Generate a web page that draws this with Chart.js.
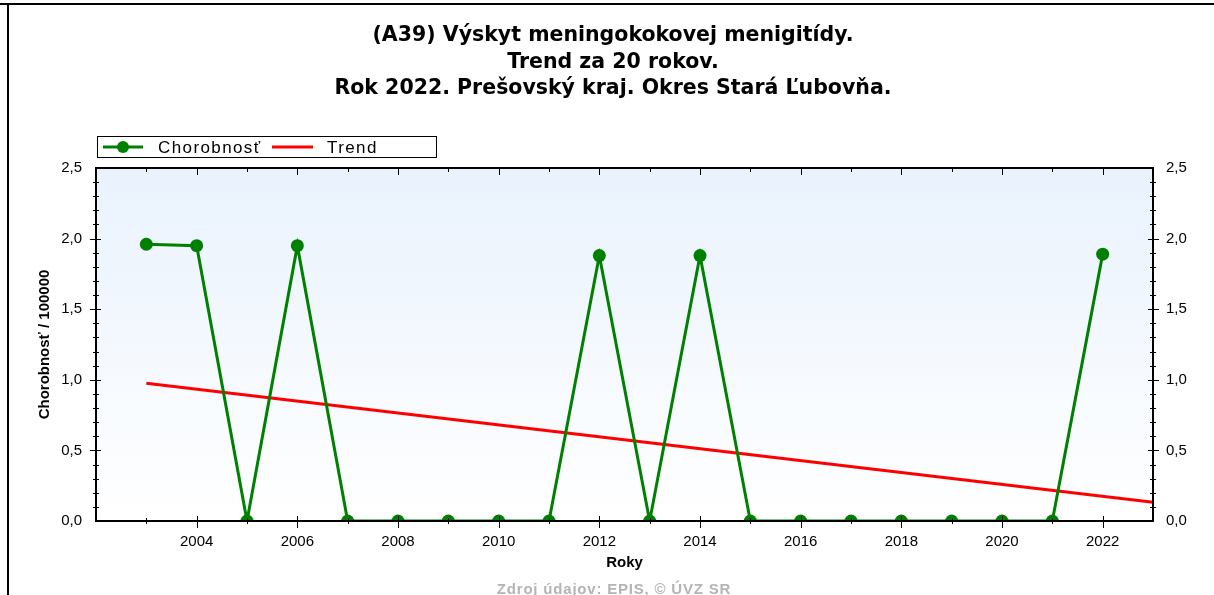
<!DOCTYPE html>
<html>
<head>
<meta charset="utf-8">
<title>A39 Stará Ľubovňa</title>
<script src="https://cdn.jsdelivr.net/npm/chart.js@4.4.1/dist/chart.umd.min.js"></script>
<style>
    html, body { margin: 0; padding: 0; background: #fff; }
    #obal { width: 1214px; height: 595px; position: relative; }
</style>
</head>
<body>
<div id="obal"><canvas id="chartVyskyt"></canvas></div>
<script>
// Údaje odčítané z grafu
var roky = [2003, 2004, 2005, 2006, 2007, 2008, 2009, 2010, 2011, 2012,
            2013, 2014, 2015, 2016, 2017, 2018, 2019, 2020, 2021, 2022];
var chorobnost = [1.96, 1.95, 0, 1.95, 0, 0, 0, 0, 0, 1.88,
                  0, 1.88, 0, 0, 0, 0, 0, 0, 0, 1.89];

// Trendová čiara (koncové body)
var trendRoky = [2003, 2023];
var trendHodnoty = [0.976, 0.133];

// Popisky osí
var popiskyX = [2004, 2006, 2008, 2010, 2012, 2014, 2016, 2018, 2020, 2022];
var popiskyY = [0, 0.5, 1.0, 1.5, 2.0, 2.5];

var nazovGrafu = [
    '(A39) Výskyt meningokokovej menigitídy.',
    'Trend za 20 rokov.',
    'Rok 2022. Prešovský kraj. Okres Stará Ľubovňa.'
];
var nazovOsiX = 'Roky';
var nazovOsiY = 'Chorobnosť / 100000';
var zdroj = 'Zdroj údajov: EPIS, © ÚVZ SR';

var zelena = '#008000';
var cervena = '#ff0000';

Chart.defaults.font.family = '"Liberation Sans", Arial, sans-serif';
Chart.defaults.color = '#000';

// Pozadie, rámik, značky na osiach, nadpis a legenda
var ramcekPlugin = {
    id: 'ramcek',
    beforeDraw: function (chart) {
        var ctx = chart.ctx, a = chart.chartArea;
        ctx.save();
        ctx.fillStyle = '#fff';
        ctx.fillRect(0, 0, chart.width, chart.height);
        // okraj obrázka
        ctx.fillStyle = '#000';
        ctx.fillRect(0, 3, chart.width, 2);
        ctx.fillRect(7, 3, 2, chart.height);
        // prechod v ploche grafu
        var g = ctx.createLinearGradient(0, a.top, 0, a.bottom);
        g.addColorStop(0, '#e9f2fd');
        g.addColorStop(1, '#ffffff');
        ctx.fillStyle = g;
        ctx.fillRect(a.left, a.top, a.right - a.left, a.bottom - a.top);
        ctx.restore();
    },
    afterDatasetsDraw: function (chart) {
        var ctx = chart.ctx, a = chart.chartArea;
        var sx = chart.scales.x, sy = chart.scales.y;
        ctx.save();
        ctx.strokeStyle = '#000';
        ctx.lineWidth = 1;
        ctx.beginPath();
        // značky na osi X
        for (var r = Math.ceil(sx.min) + 1; r < sx.max; r++) {
            var px = Math.round(sx.getPixelForValue(r)) + 0.5;
            var velka = r % 2 === 0;
            ctx.moveTo(px, a.bottom - (velka ? 5 : 3));
            ctx.lineTo(px, a.bottom + (velka ? 7 : 3));
            ctx.moveTo(px, a.top);
            ctx.lineTo(px, a.top + (velka ? 7 : 4));
        }
        // značky na osiach Y
        for (var i = 1; i < sy.max * 10; i++) {
            var py = Math.round(sy.getPixelForValue(i / 10)) + 0.5;
            var hlavna = i % 5 === 0;
            ctx.moveTo(a.left - (hlavna ? 6 : 3), py);
            ctx.lineTo(a.left + (hlavna ? 5 : 3), py);
            ctx.moveTo(a.right - (hlavna ? 5 : 3), py);
            ctx.lineTo(a.right + (hlavna ? 6 : 3), py);
        }
        ctx.stroke();
        // rámik plochy
        ctx.lineWidth = 2;
        ctx.strokeRect(a.left, a.top, a.right - a.left, a.bottom - a.top);
        ctx.restore();
    },
    afterDraw: function (chart) {
        var ctx = chart.ctx, a = chart.chartArea;
        var sady = chart.data.datasets;
        ctx.save();
        // nadpis
        ctx.font = 'bold 20.5px "DejaVu Sans", Verdana, sans-serif';
        ctx.fillStyle = '#000';
        ctx.textAlign = 'center';
        ctx.textBaseline = 'middle';
        nazovGrafu.forEach(function (riadok, i) {
            ctx.fillText(riadok, 613, 36 + i * 26.5);
        });
        ctx.textAlign = 'left';
        // legenda
        var lx = a.left + 1, ly = 136;
        ctx.fillStyle = '#fff';
        ctx.fillRect(lx, ly, 339, 21);
        ctx.strokeStyle = '#000';
        ctx.lineWidth = 1;
        ctx.strokeRect(lx + 0.5, ly + 0.5, 339, 21);
        var ym = ly + 11;
        ctx.font = '17px "Liberation Sans", Arial, sans-serif';
        ctx.letterSpacing = '1.4px';
        ctx.fillStyle = '#000';
        // Chorobnosť
        ctx.strokeStyle = sady[0].borderColor;
        ctx.lineWidth = 3;
        ctx.beginPath();
        ctx.moveTo(lx + 6, ym);
        ctx.lineTo(lx + 46, ym);
        ctx.stroke();
        ctx.fillStyle = sady[0].pointBackgroundColor;
        ctx.beginPath();
        ctx.arc(lx + 26, ym, 6, 0, Math.PI * 2);
        ctx.fill();
        ctx.fillStyle = '#000';
        ctx.fillText(sady[0].label, lx + 61, ym + 1);
        // Trend
        ctx.strokeStyle = sady[1].borderColor;
        ctx.beginPath();
        ctx.moveTo(lx + 175, ym);
        ctx.lineTo(lx + 216, ym);
        ctx.stroke();
        ctx.fillText(sady[1].label, lx + 230, ym + 1);
        // zdroj
        ctx.font = 'bold 15px "Liberation Sans", Arial, sans-serif';
        ctx.letterSpacing = '0.8px';
        ctx.fillStyle = '#b4b4b4';
        ctx.textAlign = 'center';
        ctx.fillText(zdroj, 614, 590);
        ctx.restore();
    }
};

function formatY(v) {
    return v.toFixed(1).replace('.', ',');
}

var ctxVyskyt = document.getElementById('chartVyskyt').getContext('2d');
var chartVyskyt = new Chart(ctxVyskyt, {
    type: 'line',
    data: {
        datasets: [{
            label: 'Chorobnosť',
            data: roky.map(function (r, i) { return { x: r, y: chorobnost[i] }; }),
            borderColor: zelena,
            backgroundColor: zelena,
            pointBackgroundColor: zelena,
            pointBorderWidth: 0,
            pointRadius: 6.5,
            borderWidth: 3,
            tension: 0,
            clip: 1,
            order: 1
        }, {
            label: 'Trend',
            data: trendRoky.map(function (r, i) { return { x: r, y: trendHodnoty[i] }; }),
            borderColor: cervena,
            backgroundColor: cervena,
            pointRadius: 0,
            borderWidth: 3,
            clip: 1,
            order: 2
        }]
    },
    options: {
        responsive: true,
        maintainAspectRatio: false,
        animation: false,
        layout: { padding: { top: 168, left: 0, right: 0, bottom: 0 } },
        plugins: {
            legend: { display: false },
            tooltip: { enabled: false },
            title: { display: false }
        },
        scales: {
            x: {
                type: 'linear',
                position: 'bottom',
                min: 2002,
                max: 2023,
                grid: { display: false, drawTicks: false },
                border: { display: false },
                afterBuildTicks: function (s) {
                    s.ticks = popiskyX.map(function (v) { return { value: v }; });
                },
                ticks: {
                    font: { size: 15 },
                    padding: 12,
                    autoSkip: false,
                    maxRotation: 0,
                    callback: function (v) { return String(v); }
                },
                title: {
                    display: true,
                    text: nazovOsiX,
                    font: { size: 15, weight: 'bold' },
                    padding: { top: 0, bottom: 23 }
                },
                afterFit: function (s) { s.height = 74; }
            },
            y: {
                position: 'left',
                min: 0,
                max: 2.5,
                grid: { display: false, drawTicks: false },
                border: { display: false },
                afterBuildTicks: function (s) {
                    s.ticks = popiskyY.map(function (v) { return { value: v }; });
                },
                ticks: { font: { size: 15 }, padding: 14, callback: formatY },
                title: {
                    display: true,
                    text: nazovOsiY,
                    font: { size: 15, weight: 'bold' },
                    padding: { top: 36, bottom: 0 }
                },
                afterFit: function (s) { s.width = 96; }
            },
            y2: {
                position: 'right',
                min: 0,
                max: 2.5,
                grid: { display: false, drawTicks: false },
                border: { display: false },
                afterBuildTicks: function (s) {
                    s.ticks = popiskyY.map(function (v) { return { value: v }; });
                },
                ticks: { font: { size: 15 }, padding: 13, callback: formatY },
                afterFit: function (s) { s.width = 61; }
            }
        }
    },
    plugins: [ramcekPlugin]
});
</script>
</body>
</html>
